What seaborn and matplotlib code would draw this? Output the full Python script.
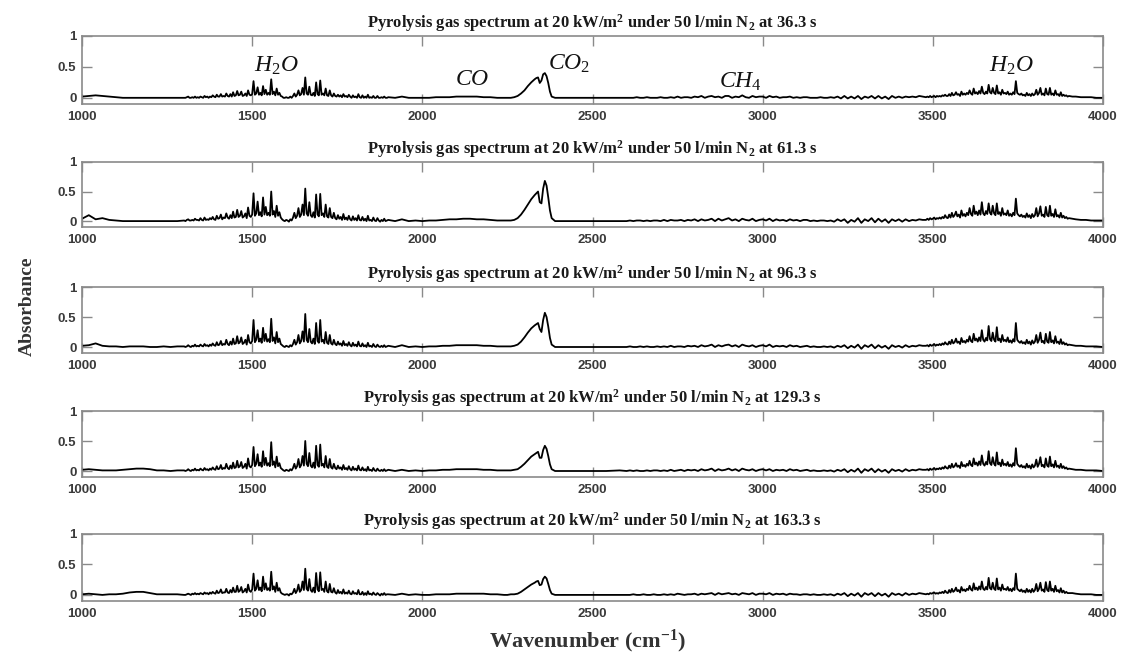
import numpy as np
import pandas as pd
import matplotlib
matplotlib.use("Agg")
import matplotlib.pyplot as plt
import seaborn as sns

# wavenumber grid (cm^-1), finer where the water lines sit
seg_a = np.arange(1000, 1300, 20)
seg_b = np.arange(1300, 1900, 4)
seg_c = np.arange(1900, 2250, 20)
seg_d = [2250, 2260, 2270, 2280, 2290, 2300, 2310, 2320, 2330, 2335, 2340,
         2345, 2350, 2355, 2360, 2365, 2370, 2375, 2380, 2390, 2400]
seg_e1 = [2420, 2460, 2500, 2540, 2580]
seg_e2 = np.arange(2600, 3480, 10)
seg_f = np.arange(3480, 3904, 4)
seg_g = [3910, 3920, 3935, 3950, 3965, 3980, 4000]
wavenumber = np.concatenate([seg_a, seg_b, seg_c, seg_d, seg_e1, seg_e2, seg_f, seg_g])

times = ["36.3", "61.3", "96.3", "129.3", "163.3"]

# absorbance x 100
abs_36 = [2, 3, 4, 3, 2, 1, 0, 0, 0, 0, 0, 0, 0, 0, 0,
          0, 0, 1, 2, 0, 0, 1, 0, 2, 0,
          1, 0, 2, 1, 0, 3, 1, 2, 0, 2,
          1, 4, 2, 1, 5, 2, 2, 6, 2, 3,
          2, 7, 3, 2, 6, 2, 9, 3, 4, 11,
          4, 5, 10, 3, 4, 7, 3, 12, 5, 4,
          6, 27, 5, 7, 17, 5, 8, 4, 19, 6,
          13, 5, 8, 5, 30, 6, 10, 4, 15, 5,
          8, 3, 2, 0, 0, 1, 0, 0, 2, 0,
          3, 7, 2, 5, 12, 4, 6, 16, 5, 33,
          7, 5, 18, 5, 4, 8, 3, 25, 6, 4,
          28, 5, 7, 4, 15, 4, 3, 12, 4, 2,
          7, 3, 2, 5, 2, 4, 1, 6, 2, 3,
          1, 5, 2, 0, 4, 1, 2, 0, 6, 1,
          0, 4, 0, 2, 0, 5, 0, 1, 0, 3,
          0, 0, 3, 0, 0, 1, 0, 2, 0, 0,
          1, 0, 2, 0, 0, 0, 0, 1, 1, 1, 2, 2, 2, 2, 1, 1, 0, 0,
          0, 0, 1, 3, 7, 12, 19, 25, 30, 32, 33, 24, 28, 38, 40, 35, 24, 10, 2, 0, 0,
          0, 0, 0, 0, 0,
          0, 0, 0, 1, 0, 0, 1, 0, 0, 0,
          1, 0, 0, 1, 0, 2, 0, 1, 1, 0,
          2, 1, 3, 0, 2, 3, 1, 2, 0, 3,
          3, 0, 2, 1, 4, 1, 0, 3, 1, 2,
          2, 0, 3, 1, 2, 0, 1, 1, 2, 0,
          1, 0, 1, 1, 0, 0, 0, 1, 0, 0,
          1, 0, 2, -1, 3, -1, 2, -1, 3, -2,
          2, 0, 3, -1, 3, -1, 2, -2, 3, 0,
          2, 0, 2, 1, 2, 1, 3, 2,
          1, 2, 1, 3, 1, 2, 3, 1, 3, 2,
          3, 2, 4, 3, 5, 3, 3, 6, 3, 8,
          4, 5, 9, 5, 6, 3, 10, 5, 7, 5,
          8, 6, 12, 7, 5, 15, 7, 9, 6, 11,
          7, 18, 8, 6, 10, 7, 21, 9, 7, 16,
          8, 6, 20, 7, 9, 5, 13, 7, 8, 6,
          10, 5, 7, 5, 9, 6, 27, 8, 6, 5,
          7, 4, 5, 3, 8, 4, 6, 3, 7, 4,
          6, 13, 5, 8, 16, 5, 7, 4, 15, 6,
          5, 16, 5, 7, 4, 12, 5, 6, 3, 9,
          3, 5, 3, 4, 2, 3,
          2, 2, 1, 1, 1, 0, 0]

abs_61 = [4, 10, 3, 5, 2, 1, 0, 0, 0, 0, 0, 0, 0, 0, 0,
          1, 0, 2, 3, 1, 1, 2, 1, 4, 2,
          2, 1, 5, 2, 1, 6, 2, 3, 2, 5,
          3, 7, 3, 2, 9, 4, 5, 11, 3, 6,
          5, 13, 6, 4, 10, 5, 16, 6, 7, 19,
          7, 9, 17, 6, 8, 13, 5, 23, 9, 7,
          11, 47, 9, 13, 33, 10, 15, 8, 40, 11,
          24, 10, 14, 9, 50, 11, 17, 7, 26, 9,
          15, 6, 3, 1, 0, 2, 1, -1, 3, 1,
          6, 14, 5, 9, 22, 7, 11, 28, 10, 55,
          13, 9, 32, 10, 7, 15, 6, 45, 11, 8,
          46, 10, 13, 7, 28, 8, 6, 22, 7, 5,
          14, 5, 3, 10, 4, 7, 2, 12, 3, 6,
          2, 9, 3, 1, 8, 2, 5, 1, 10, 2,
          1, 7, 1, 4, 0, 9, 1, 2, 0, 6,
          1, 0, 5, 1, -1, 2, 0, 4, 0, 1,
          2, 0, 3, 0, 1, 0, 1, 1, 2, 3, 3, 4, 4, 3, 3, 2, 1, 1,
          1, 1, 2, 5, 11, 19, 28, 37, 44, 47, 50, 32, 30, 55, 68, 60, 40, 18, 5, 0, 0,
          0, 0, 0, 0, 0,
          0, 1, 0, 1, 1, 0, 1, 0, 1, 1,
          0, 2, 0, 2, 1, 1, 2, 0, 2, 1,
          3, 0, 3, 1, 2, 4, 0, 4, 1, 3,
          5, 1, 3, 0, 4, 2, 1, 4, 0, 2,
          3, 1, 4, 0, 3, 1, 2, 0, 3, 1,
          2, 0, 2, 2, 0, 1, 0, 1, 1, 0,
          1, -1, 3, 0, 3, -3, 2, -1, 5, -3,
          3, 0, 5, -2, 4, -1, 3, -3, 3, 0,
          3, -1, 3, 0, 2, 1, 3, 2,
          2, 4, 2, 5, 3, 4, 6, 3, 5, 4,
          6, 4, 7, 5, 10, 6, 5, 11, 6, 14,
          7, 10, 16, 8, 11, 6, 18, 9, 12, 8,
          14, 10, 22, 12, 9, 26, 12, 16, 10, 18,
          11, 32, 13, 10, 17, 12, 30, 14, 11, 26,
          13, 10, 30, 12, 15, 9, 22, 11, 13, 10,
          18, 9, 12, 8, 14, 10, 38, 13, 10, 8,
          11, 7, 9, 6, 13, 7, 10, 5, 12, 7,
          10, 22, 8, 13, 25, 9, 11, 7, 24, 10,
          8, 26, 9, 12, 7, 20, 8, 10, 6, 14,
          6, 9, 5, 7, 4, 5,
          4, 3, 2, 2, 1, 1, 1]

abs_96 = [2, 3, 6, 2, 1, 1, 0, 1, 1, 1, 0, 0, 1, 0, 1,
          1, 0, 1, 3, 1, 0, 2, 1, 4, 1,
          2, 1, 4, 2, 1, 5, 2, 3, 1, 4,
          2, 6, 3, 2, 8, 3, 4, 10, 3, 5,
          4, 12, 5, 3, 9, 4, 14, 5, 6, 18,
          6, 8, 16, 5, 7, 12, 4, 20, 8, 6,
          10, 45, 8, 12, 28, 9, 14, 7, 32, 10,
          22, 9, 13, 8, 47, 10, 16, 6, 25, 8,
          14, 5, 3, 1, 0, 2, 1, 0, 3, 1,
          5, 12, 4, 8, 20, 6, 10, 26, 9, 55,
          12, 8, 30, 9, 6, 14, 5, 40, 10, 7,
          45, 9, 12, 6, 25, 7, 5, 20, 6, 4,
          12, 5, 3, 9, 4, 6, 2, 10, 3, 5,
          2, 8, 3, 1, 7, 2, 4, 1, 9, 2,
          1, 6, 1, 3, 0, 7, 1, 2, 0, 5,
          1, 0, 4, 1, 0, 2, 0, 3, 0, 1,
          2, 0, 3, 0, 1, 0, 1, 1, 2, 2, 3, 3, 3, 3, 2, 2, 1, 1,
          1, 1, 2, 4, 9, 16, 24, 31, 36, 38, 40, 30, 25, 45, 57, 50, 34, 15, 4, 0, 0,
          0, 0, 0, 0, 0,
          0, 1, 0, 0, 1, 0, 1, 0, 0, 1,
          0, 1, 0, 2, 0, 1, 1, 0, 2, 1,
          2, 0, 3, 1, 2, 4, 0, 3, 1, 3,
          4, 1, 3, 0, 4, 2, 1, 3, 0, 2,
          3, 1, 4, 0, 2, 1, 2, 0, 3, 1,
          2, 0, 1, 2, 0, 1, 0, 0, 1, 0,
          1, -1, 2, 0, 3, -2, 2, -1, 4, -3,
          3, 0, 4, -2, 3, -1, 2, -3, 3, 0,
          2, -1, 3, 0, 2, 1, 3, 2,
          2, 3, 1, 4, 2, 3, 5, 2, 4, 3,
          5, 3, 6, 4, 8, 5, 4, 9, 5, 12,
          6, 8, 14, 7, 9, 5, 15, 8, 10, 7,
          12, 9, 18, 10, 8, 22, 11, 14, 9, 16,
          10, 28, 12, 9, 15, 11, 35, 13, 10, 24,
          12, 9, 33, 11, 14, 8, 20, 10, 12, 9,
          16, 8, 11, 7, 13, 9, 40, 12, 9, 7,
          10, 6, 8, 5, 12, 6, 9, 4, 11, 6,
          9, 20, 7, 12, 24, 8, 10, 6, 22, 9,
          7, 25, 8, 11, 6, 18, 7, 9, 5, 13,
          5, 8, 4, 6, 3, 4,
          3, 2, 2, 1, 1, 1, 0]

abs_129 = [2, 3, 2, 1, 1, 1, 2, 3, 4, 4, 3, 1, 1, 0, 1,
           1, 0, 1, 3, 1, 0, 2, 1, 4, 1,
           2, 1, 4, 2, 1, 5, 2, 3, 1, 4,
           2, 6, 3, 2, 8, 3, 4, 10, 3, 5,
           4, 12, 5, 3, 9, 4, 14, 5, 6, 17,
           6, 8, 15, 5, 7, 12, 4, 21, 8, 6,
           10, 40, 8, 12, 28, 9, 14, 7, 33, 10,
           22, 9, 13, 8, 48, 10, 16, 6, 24, 8,
           13, 5, 3, 1, 0, 2, 1, 0, 3, 1,
           5, 12, 4, 8, 20, 6, 10, 25, 9, 50,
           12, 8, 30, 9, 6, 14, 5, 42, 10, 7,
           44, 9, 12, 6, 25, 7, 5, 20, 6, 4,
           12, 5, 3, 9, 4, 6, 2, 10, 3, 5,
           2, 8, 3, 1, 7, 2, 4, 1, 9, 2,
           1, 6, 1, 3, 0, 7, 1, 2, 0, 5,
           1, 0, 4, 1, 0, 2, 0, 3, 0, 1,
           2, 0, 2, 0, 1, 0, 1, 1, 2, 2, 3, 3, 3, 3, 2, 2, 1, 1,
           1, 1, 2, 3, 7, 12, 18, 24, 28, 30, 32, 22, 22, 35, 42, 37, 25, 11, 3, 0, 0,
           0, 0, 0, 0, 1,
           0, 1, 0, 1, 0, 0, 1, 0, 1, 1,
           0, 1, 0, 2, 0, 1, 2, 0, 2, 1,
           2, 0, 3, 1, 2, 4, 0, 3, 1, 2,
           4, 1, 3, 0, 4, 2, 1, 3, 0, 2,
           3, 1, 3, 0, 2, 1, 2, 0, 3, 1,
           2, 0, 1, 2, 0, 1, 0, 0, 1, 0,
           1, -1, 2, 0, 3, -2, 2, -1, 4, -3,
           3, 0, 4, -2, 3, -1, 2, -3, 3, 0,
           2, -1, 3, 0, 2, 1, 3, 2,
           2, 3, 1, 4, 2, 3, 5, 2, 4, 3,
           5, 3, 6, 4, 8, 5, 4, 9, 5, 12,
           6, 8, 13, 7, 9, 5, 15, 8, 10, 7,
           12, 9, 17, 10, 8, 21, 11, 14, 9, 16,
           10, 26, 12, 9, 15, 11, 33, 13, 10, 23,
           12, 9, 31, 11, 14, 8, 19, 10, 12, 9,
           15, 8, 11, 7, 13, 9, 38, 12, 9, 7,
           10, 6, 8, 5, 12, 6, 9, 4, 11, 6,
           9, 19, 7, 12, 23, 8, 10, 6, 21, 9,
           7, 24, 8, 11, 6, 17, 7, 9, 5, 12,
           5, 8, 4, 6, 3, 4,
           3, 2, 2, 1, 1, 1, 0]

abs_163 = [1, 2, 1, 0, 1, 1, 2, 4, 5, 5, 3, 1, 1, 1, 1,
           0, 0, 1, 2, 1, 0, 2, 1, 3, 1,
           2, 1, 3, 2, 1, 4, 2, 3, 1, 4,
           2, 5, 3, 2, 7, 3, 4, 9, 3, 4,
           4, 10, 4, 3, 8, 4, 12, 5, 5, 15,
           5, 7, 13, 4, 6, 10, 4, 17, 7, 5,
           9, 35, 7, 10, 24, 8, 12, 6, 30, 9,
           19, 8, 11, 7, 38, 9, 14, 5, 20, 7,
           11, 4, 2, 1, 0, 1, 1, -1, 2, 1,
           4, 10, 3, 7, 17, 5, 8, 22, 8, 43,
           10, 7, 26, 8, 5, 12, 4, 36, 9, 6,
           37, 8, 10, 5, 22, 6, 4, 18, 5, 4,
           11, 4, 2, 8, 3, 5, 2, 9, 2, 4,
           2, 7, 2, 1, 6, 2, 3, 1, 8, 1,
           1, 5, 0, 3, 0, 6, 1, 2, 0, 4,
           1, 0, 3, 1, -1, 2, 0, 3, 0, 1,
           1, 0, 2, 0, 1, 0, 0, 1, 1, 1, 2, 2, 2, 2, 2, 1, 1, 0,
           0, 1, 1, 2, 5, 9, 13, 17, 20, 22, 23, 16, 17, 26, 30, 27, 18, 8, 2, 0, 0,
           0, 0, 0, 0, 0,
           0, 0, 1, 0, 0, 1, 0, 0, 1, 0,
           0, 1, 0, 1, 0, 2, 1, 0, 1, 1,
           2, 0, 2, 1, 2, 3, 0, 3, 1, 2,
           3, 1, 2, 0, 3, 2, 1, 3, 0, 2,
           2, 1, 3, 0, 2, 1, 2, 0, 2, 1,
           1, 0, 1, 1, 0, 1, 0, 0, 1, 0,
           1, -1, 2, 0, 3, -2, 2, -1, 3, -3,
           3, 0, 3, -2, 3, -1, 2, -3, 3, 0,
           2, -1, 3, 0, 2, 1, 3, 2,
           1, 2, 1, 3, 2, 3, 4, 2, 3, 2,
           4, 3, 5, 3, 7, 4, 3, 8, 4, 10,
           5, 7, 12, 6, 8, 4, 13, 7, 9, 6,
           10, 8, 15, 9, 7, 19, 9, 12, 8, 14,
           9, 22, 10, 8, 13, 9, 28, 11, 9, 20,
           10, 8, 27, 9, 12, 7, 17, 9, 10, 8,
           13, 7, 10, 6, 11, 8, 35, 10, 8, 6,
           9, 5, 7, 4, 10, 5, 8, 4, 10, 5,
           8, 18, 6, 10, 20, 7, 9, 5, 21, 8,
           6, 22, 7, 10, 5, 15, 6, 8, 4, 11,
           4, 7, 3, 5, 3, 3,
           3, 2, 1, 1, 1, 0, 0]

spectra = [abs_36, abs_61, abs_96, abs_129, abs_163]
for s in spectra:
    assert len(s) == len(wavenumber), (len(s), len(wavenumber))

# gas labels on the first panel
gas_labels = [r"$\mathit{H}_{\mathrm{2}}\mathit{O}$", r"$\mathit{CO}$", r"$\mathit{CO}_{\mathrm{2}}$",
              r"$\mathit{CH}_{\mathrm{4}}$", r"$\mathit{H}_{\mathrm{2}}\mathit{O}$"]
gas_x = [1570, 2145, 2432, 2935, 3730]
gas_y = [0.52, 0.30, 0.55, 0.27, 0.52]

sns.set_style("white")
plt.rcParams["font.family"] = ["Liberation Sans", "DejaVu Sans"]
plt.rcParams["mathtext.fontset"] = "custom"
plt.rcParams["mathtext.it"] = "Liberation Serif:italic"
plt.rcParams["mathtext.rm"] = "Liberation Serif"
plt.rcParams["mathtext.default"] = "regular"

fig = plt.figure(figsize=(11.25, 6.59), dpi=100)
fig.patch.set_facecolor("white")

tops = [36, 162, 287, 411, 534]
bottoms = [104, 227, 353, 477, 601]
frame = "#8a8a8a"

for i, t in enumerate(times):
    b_px = bottoms[i]
    h_px = bottoms[i] - tops[i]
    ax = fig.add_axes([82 / 1125, (659 - b_px) / 659, 1021 / 1125, h_px / 659])
    df = pd.DataFrame({"wavenumber": wavenumber,
                       "absorbance": np.array(spectra[i]) / 100.0})
    sns.lineplot(data=df, x="wavenumber", y="absorbance", ax=ax,
                 color="black", linewidth=1.3, estimator=None)
    ax.set_xlim(1000, 4000)
    ax.set_ylim(-0.1, 1)
    ax.set_xticks([1000, 1500, 2000, 2500, 3000, 3500, 4000])
    ax.set_yticks([0, 0.5, 1])
    ax.set_yticklabels(["0", "0.5", "1"])
    ax.set_xlabel("")
    ax.set_ylabel("")
    ax.tick_params(direction="in", length=7, width=1, color=frame,
                   labelcolor="#3a3a3a", labelsize=9.5, top=True, right=True,
                   bottom=True, left=True)
    ax.tick_params(axis="x", pad=5)
    ax.tick_params(axis="y", pad=4)
    for lab in ax.get_xticklabels() + ax.get_yticklabels():
        lab.set_fontweight("bold")
    for s in ax.spines.values():
        s.set_color(frame)
        s.set_linewidth(1.2)
    ax.set_title(f"Pyrolysis gas spectrum at 20 kW/m$^2$ under 50 l/min N$_2$ at {t} s",
                 fontfamily="Liberation Serif", fontweight="bold", fontsize=12,
                 pad=6, color="#1a1a1a")
    if i == 0:
        for lab, gx, gy in zip(gas_labels, gas_x, gas_y):
            ax.text(gx, gy, lab, fontsize=17, ha="center", va="center", color="#111111")

fig.text(0.024, 0.536, "Absorbance", rotation=90, ha="center", va="center",
         fontfamily="Liberation Serif", fontweight="bold", fontsize=14, color="#333333")
fig.text(0.522, 0.026, "Wavenumber (cm$^{-1}$)", ha="center", va="center",
         fontfamily="Liberation Serif", fontweight="bold", fontsize=16, color="#333333")

fig.savefig("out.png", dpi=100, facecolor="white")
